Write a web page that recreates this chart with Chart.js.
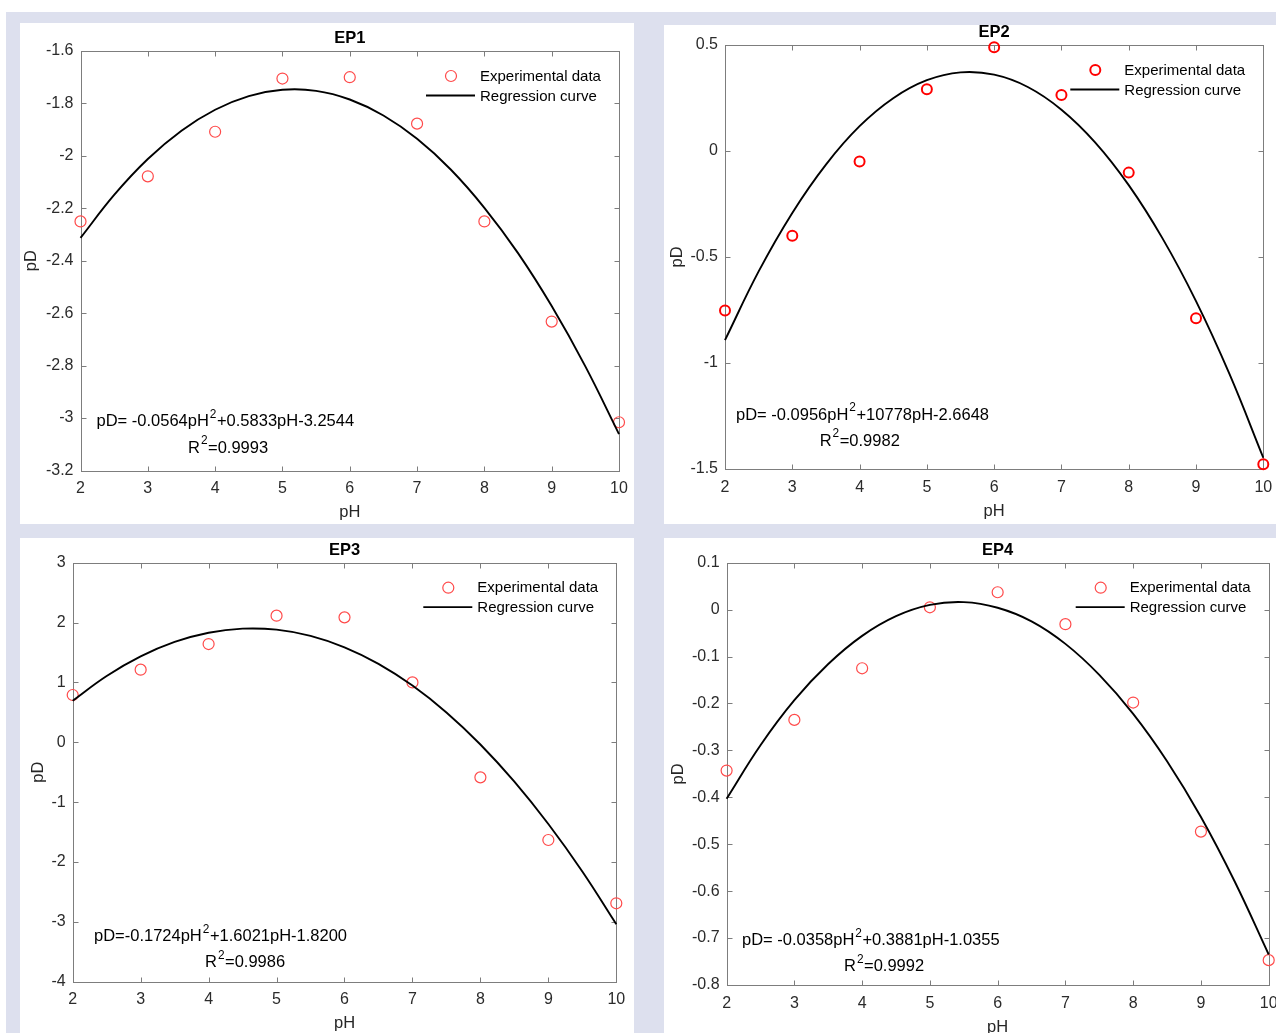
<!DOCTYPE html>
<html>
<head>
<meta charset="utf-8">
<script src="https://cdn.jsdelivr.net/npm/chart.js@4.4.1/dist/chart.umd.min.js"></script>
<style>
  html, body { margin: 0; padding: 0; background: #fff; overflow: hidden; }
  body { width: 1276px; height: 1033px; position: relative; }
  #bg { position: absolute; left: 6px; top: 12px; right: 0; bottom: 0; background: #dde0ee; }
  canvas { position: absolute; background: #fff; }
</style>
</head>
<body>
<div id="bg"></div>
<canvas id="ep1"></canvas>
<canvas id="ep2"></canvas>
<canvas id="ep3"></canvas>
<canvas id="ep4"></canvas>
<script>
// measured points (pH 2..10)
const phValues = [2, 3, 4, 5, 6, 7, 8, 9, 10];
const ep1Data = [-2.25, -2.078, -1.908, -1.705, -1.70, -1.877, -2.25, -2.632, -3.016];
const ep2Data = [-0.752, -0.40, -0.049, 0.291, 0.489, 0.264, -0.102, -0.789, -1.478];
const ep3Data = [0.79, 1.213, 1.641, 2.115, 2.087, 1.0, -0.586, -1.633, -2.69];
const ep4Data = [-0.343, -0.235, -0.125, 0.005, 0.037, -0.031, -0.198, -0.473, -0.747];

// regression curves every 0.5 pH
const curvePh = [2, 2.5, 3, 3.5, 4, 4.5, 5, 5.5, 6, 6.5, 7, 7.5, 8, 8.5, 9, 9.5, 10];
const ep1Curve = [-2.313, -2.149, -2.012, -1.904, -1.824, -1.772, -1.748, -1.752, -1.785, -1.846, -1.935, -2.052, -2.198, -2.371, -2.573, -2.803, -3.061];
const ep2Curve = [-0.892, -0.568, -0.292, -0.064, 0.117, 0.249, 0.334, 0.371, 0.360, 0.302, 0.195, 0.041, -0.161, -0.411, -0.708, -1.054, -1.447];
const ep3Curve = [0.695, 1.108, 1.435, 1.676, 1.830, 1.898, 1.881, 1.777, 1.586, 1.310, 0.947, 0.498, -0.037, -0.658, -1.366, -2.159, -3.039];
const ep4Curve = [-0.403, -0.289, -0.193, -0.116, -0.056, -0.014, 0.010, 0.016, 0.004, -0.025, -0.073, -0.139, -0.222, -0.323, -0.442, -0.580, -0.735];

// tick values
const xTicks = [2, 3, 4, 5, 6, 7, 8, 9, 10];
const ep1Ticks = [-3.2, -3, -2.8, -2.6, -2.4, -2.2, -2, -1.8, -1.6];
const ep2Ticks = [-1.5, -1, -0.5, 0, 0.5];
const ep3Ticks = [-4, -3, -2, -1, 0, 1, 2, 3];
const ep4Ticks = [-0.8, -0.7, -0.6, -0.5, -0.4, -0.3, -0.2, -0.1, 0, 0.1];

const FONT = '"Liberation Sans", Arial, sans-serif';

// box = white panel [x, y, w, h]; plot = axes rect [left, top, right, bottom]
const panels = [
  { id: 'ep1', title: 'EP1', box: [20, 23, 614, 501], plot: [80.5, 51, 619, 470.5], extra: [0, 0],
    pts: ep1Data, curve: ep1Curve, ticks: ep1Ticks,
    eq: 'pD= -0.0564pH^2+0.5833pH-3.2544', r2: 'R^2=0.9993', eqPos: [16, -49, 107.5, -22.5], yGap: 49,
    marker: { color: '#ff4a4a', width: 1.2, r: 5.5 } },
  { id: 'ep2', title: 'EP2', box: [664, 25, 612, 499], plot: [725, 45, 1263.3, 469], extra: [40, 0],
    pts: ep2Data, curve: ep2Curve, ticks: ep2Ticks,
    eq: 'pD= -0.0956pH^2+10778pH-2.6648', r2: 'R^2=0.9982', eqPos: [11, -54, 94.7, -28], yGap: 48,
    marker: { color: '#ff0000', width: 2, r: 5 } },
  { id: 'ep3', title: 'EP3', box: [20, 538, 614, 495], plot: [72.7, 562.7, 616.3, 981.7], extra: [0, 30],
    pts: ep3Data, curve: ep3Curve, ticks: ep3Ticks,
    eq: 'pD=-0.1724pH^2+1.6021pH-1.8200', r2: 'R^2=0.9986', eqPos: [21.3, -45, 132.3, -19], yGap: 34.5,
    marker: { color: '#ff4a4a', width: 1.2, r: 5.5 } },
  { id: 'ep4', title: 'EP4', box: [664, 538, 612, 495], plot: [726.6, 562.7, 1268.7, 985], extra: [40, 30],
    pts: ep4Data, curve: ep4Curve, ticks: ep4Ticks,
    eq: 'pD= -0.0358pH^2+0.3881pH-1.0355', r2: 'R^2=0.9992', eqPos: [15.4, -44.3, 117.4, -18.3], yGap: 48.6,
    marker: { color: '#ff4a4a', width: 1.2, r: 5.5 } }
];

// text with "^x" superscripts
function richText(ctx, str, x, y, size) {
  const parts = str.split('^');
  let cx = x;
  parts.forEach((part, i) => {
    let rest = part;
    if (i > 0) {
      const sup = part[0];
      rest = part.slice(1);
      ctx.font = (size * 0.72) + 'px ' + FONT;
      ctx.fillText(sup, cx + 1, y - size * 0.42);
      cx += ctx.measureText(sup).width + 1.5;
    }
    ctx.font = size + 'px ' + FONT;
    ctx.fillText(rest, cx, y);
    cx += ctx.measureText(rest).width;
  });
}

const axesBox = {
  id: 'axesBox',
  beforeDatasetsDraw(chart) {
    const { ctx, chartArea: a, scales } = chart;
    const L = Math.round(a.left) + 0.5, R = Math.round(a.right) + 0.5;
    const T = Math.round(a.top) + 0.5, B = Math.round(a.bottom) + 0.5;
    ctx.save();
    ctx.strokeStyle = '#7d7d7d';
    ctx.lineWidth = 1;
    ctx.strokeRect(L, T, R - L, B - T);
    ctx.beginPath();
    scales.x.ticks.forEach(t => {
      const x = Math.round(scales.x.getPixelForValue(t.value)) + 0.5;
      ctx.moveTo(x, B); ctx.lineTo(x, B - 5);
      ctx.moveTo(x, T); ctx.lineTo(x, T + 5);
    });
    scales.y.ticks.forEach(t => {
      const y = Math.round(scales.y.getPixelForValue(t.value)) + 0.5;
      ctx.moveTo(L, y); ctx.lineTo(L + 5, y);
      ctx.moveTo(R, y); ctx.lineTo(R - 5, y);
    });
    ctx.stroke();
    ctx.restore();
  },
  afterDraw(chart, args, opts) {
    const p = opts.panel;
    const { ctx, chartArea: a } = chart;
    const cx = (a.left + a.right) / 2;
    ctx.save();
    ctx.fillStyle = '#000';
    ctx.textBaseline = 'middle';
    // title
    ctx.textAlign = 'center';
    ctx.font = 'bold 16.5px ' + FONT;
    ctx.fillText(p.title, cx, a.top - 12.5);
    // axis titles
    ctx.fillStyle = '#262626';
    ctx.font = '16.5px ' + FONT;
    ctx.fillText('pH', cx, a.bottom + 42);
    ctx.save();
    ctx.translate(a.left - p.yGap, (a.top + a.bottom) / 2);
    ctx.rotate(-Math.PI / 2);
    ctx.fillText('pD', 0, 0);
    ctx.restore();
    // legend
    const m = p.marker;
    ctx.strokeStyle = m.color;
    ctx.lineWidth = m.width;
    ctx.beginPath();
    ctx.arc(a.right - 168, a.top + 25, m.r, 0, Math.PI * 2);
    ctx.stroke();
    ctx.strokeStyle = '#000';
    ctx.lineWidth = 1.8;
    ctx.beginPath();
    ctx.moveTo(a.right - 193, a.top + 44.5);
    ctx.lineTo(a.right - 144, a.top + 44.5);
    ctx.stroke();
    ctx.fillStyle = '#000';
    ctx.textAlign = 'left';
    ctx.font = '15px ' + FONT;
    ctx.fillText('Experimental data', a.right - 139, a.top + 25.5);
    ctx.fillText('Regression curve', a.right - 139, a.top + 45.5);
    // fitted equation
    richText(ctx, p.eq, a.left + p.eqPos[0], a.bottom + p.eqPos[1], 16.5);
    richText(ctx, p.r2, a.left + p.eqPos[2], a.bottom + p.eqPos[3], 16.5);
    ctx.restore();
  }
};

panels.forEach(p => {
  const [bx, by, bw, bh] = p.box;
  const [pl, pt, pr, pb] = p.plot;
  const w = bw + p.extra[0], h = bh + p.extra[1];
  const canvas = document.getElementById(p.id);
  canvas.width = w; canvas.height = h;
  canvas.style.left = bx + 'px'; canvas.style.top = by + 'px';
  canvas.style.width = w + 'px'; canvas.style.height = h + 'px';

  const yTicks = p.ticks;
  new Chart(canvas.getContext('2d'), {
    type: 'scatter',
    data: {
      datasets: [
        {
          label: 'Regression curve',
          data: curvePh.map((x, i) => ({ x: x, y: p.curve[i] })),
          showLine: true,
          tension: 0.4,
          borderColor: '#000',
          borderWidth: 1.9,
          pointRadius: 0,
          clip: false
        },
        {
          label: 'Experimental data',
          data: phValues.map((x, i) => ({ x: x, y: p.pts[i] })),
          pointStyle: 'circle',
          pointRadius: p.marker.r,
          borderColor: p.marker.color,
          borderWidth: p.marker.width,
          backgroundColor: 'rgba(0,0,0,0)',
          clip: false
        }
      ]
    },
    options: {
      responsive: false,
      animation: false,
      devicePixelRatio: 1,
      events: [],
      layout: { padding: { left: 0, top: pt - by, right: bx + w - pr, bottom: p.extra[1] } },
      plugins: { legend: { display: false }, tooltip: { enabled: false }, axesBox: { panel: p } },
      scales: {
        x: {
          type: 'linear', position: 'bottom', min: 2, max: 10,
          afterBuildTicks: s => { s.ticks = xTicks.map(v => ({ value: v })); },
          afterFit: s => { s.height = by + bh - pb; },
          grid: { display: false, drawTicks: true, tickLength: 8.5 },
          border: { display: false },
          ticks: { padding: 0, color: '#2b2b2b', font: { family: FONT, size: 16 }, callback: v => String(v) }
        },
        y: {
          type: 'linear', position: 'left', min: yTicks[0], max: yTicks[yTicks.length - 1],
          afterBuildTicks: s => { s.ticks = yTicks.map(v => ({ value: v })); },
          afterFit: s => { s.width = pl - bx; },
          grid: { display: false, drawTicks: true, tickLength: 7 },
          border: { display: false },
          ticks: { padding: 0, color: '#2b2b2b', font: { family: FONT, size: 16 }, callback: v => String(v) }
        }
      }
    },
    plugins: [axesBox]
  });
});
</script>
</body>
</html>
